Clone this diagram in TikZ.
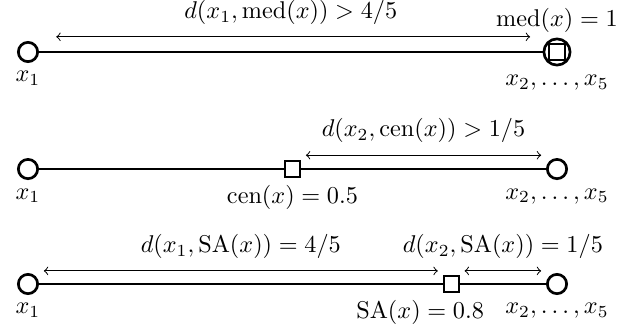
\documentclass[tikz,border=0pt]{standalone}
\usepackage{amsmath}
\usetikzlibrary{positioning}

\begin{document}
\begin{tikzpicture}[
  x=7.67cm, y=1cm,
  point/.style={circle, draw=black, line width=1.1pt, fill=white,
    minimum size=0.28cm, inner sep=0pt},
  bigpoint/.style={point, minimum size=0.38cm},
  centre/.style={rectangle, draw=black, thick, fill=white,
    minimum size=0.22cm, inner sep=0pt},
  segment/.style={thick},
  dist/.style={<->, thin, shorten <=0.07cm, shorten >=0.07cm}
]
  \useasboundingbox (-0.406cm,-4.046cm) rectangle (8.83cm,0.754cm);

  % median
  \node[point] (p1) at (0,0) {};
  \node[bigpoint] (q1) at (1,0) {};
  \node[centre] (med) at (q1) {};
  \draw[segment] (p1) -- (q1);
  \draw[dist, shorten <=0.25cm, shorten >=0.18cm]
    ([yshift=0.22cm]p1.east) -- node[above=1.5pt]
    {$d(x_1,\mathrm{med}(x)) > 4/5$} ([yshift=0.22cm]q1.west);
  \node[above=-1.5pt of q1] (medlab) {$\mathrm{med}(x) = 1$};
  \node[below=0pt of p1] (xa1) {$x_1$};
  \node[below=0pt of q1] (xb1) {$x_2,\dots,x_5$};

  % centre
  \node[point] (p2) at (0,-1.697) {};
  \node[point] (q2) at (1,-1.697) {};
  \node[centre] (cen) at (0.5,-1.697) {};
  \draw[segment] (p2) -- (cen) -- (q2);
  \draw[dist] ([yshift=0.2cm]cen.east) -- node[above=1.5pt]
    {$d(x_2,\mathrm{cen}(x)) > 1/5$} ([yshift=0.2cm]q2.west);
  \node[below=-0.5pt of cen] (cenlab) {$\mathrm{cen}(x) = 0.5$};
  \node[below=0pt of p2] (xa2) {$x_1$};
  \node[below=0pt of q2] (xb2) {$x_2,\dots,x_5$};

  % SA
  \node[point] (p3) at (0,-3.364) {};
  \node[point] (q3) at (1,-3.364) {};
  \node[centre] (sa) at (0.8,-3.364) {};
  \draw[segment] (p3) -- (sa) -- (q3);
  \draw[dist] ([yshift=0.19cm]p3.east) -- node[above=1.5pt]
    {$d(x_1,\mathrm{SA}(x)) = 4/5$} ([yshift=0.19cm]sa.west);
  \draw[dist] ([yshift=0.19cm]sa.east) -- node[above=1.5pt]
    {$d(x_2,\mathrm{SA}(x)) = 1/5$} ([yshift=0.19cm]q3.west);
  \node[below=-0.5pt of sa, xshift=-0.45cm] (salab) {$\mathrm{SA}(x) = 0.8$};
  \node[below=0pt of p3] (xa3) {$x_1$};
  \node[below=0pt of q3] (xb3) {$x_2,\dots,x_5$};
\end{tikzpicture}
\end{document}
